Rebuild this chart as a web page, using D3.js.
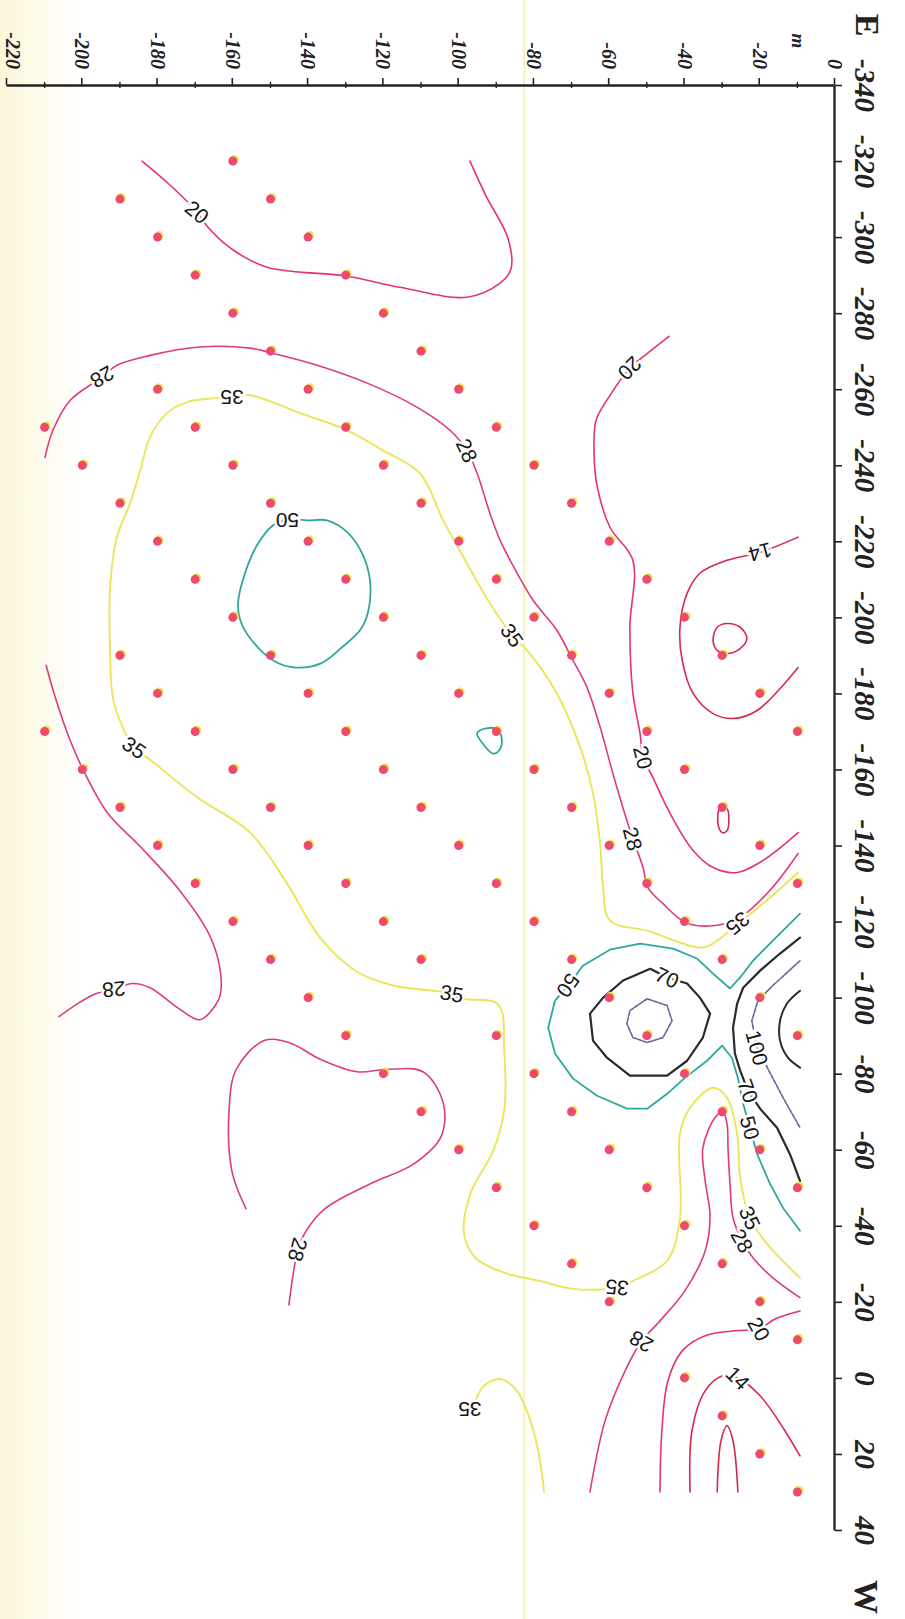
<!DOCTYPE html>
<html><head><meta charset="utf-8">
<script src="https://cdn.jsdelivr.net/npm/d3@7"></script>
<style>html,body{margin:0;padding:0;background:#fff;}svg{display:block}</style>
</head><body>
<svg id="chart" width="905" height="1619"></svg>
<script>
// ---------- DATA ----------
const xTickValues = [-340,-320,-300,-280,-260,-240,-220,-200,-180,-160,-140,-120,-100,-80,-60,-40,-20,0,20,40];
const depthTickValues = [0,-20,-40,-60,-80,-100,-120,-140,-160,-180,-200,-220];
const depthMinorTicks = [-10,-30,-50,-70,-90,-110,-130,-150,-170,-190,-210];
const depthUnit = "m";
const leftEnd = "E", rightEnd = "W";

// sample stations (x, m) and the depths (m) sampled at each
const stationX = [-320,-310,-300,-290,-280,-270,-260,-250,-240,-230,-220,-210,-200,-190,-180,-170,-160,-150,-140,-130,-120,-110,-100,-90,-80,-70,-60,-50,-40,-30,-20,-10,0,10,20,30];
const stationDepths = [
 [-160],[-150,-190],[-140,-180],[-130,-170],[-120,-160],[-110,-150],
 [-100,-140,-180],[-90,-130,-170,-210],[-80,-120,-160,-200],[-70,-110,-150,-190],
 [-60,-100,-140,-180],[-50,-90,-130,-170],[-40,-80,-120,-160],[-30,-70,-110,-150,-190],
 [-20,-60,-100,-140,-180],[-10,-50,-90,-130,-170,-210],[-40,-80,-120,-160,-200],
 [-30,-70,-110,-150,-190],[-20,-60,-100,-140,-180],[-10,-50,-90,-130,-170],
 [-40,-80,-120,-160],[-30,-70,-110,-150],[-20,-60,-100,-140],[-10,-50,-90,-130],
 [-40,-80,-120],[-30,-70,-110],[-20,-60,-100],[-10,-50,-90],
 [-40,-80],[-30,-70],[-20,-60],[-10,-50],[-40],[-30],[-20],[-10]
];

// contour lines: [x, depth]
const c20a = [[-320,-184.1],[-313.7,-176.7],[-306.6,-169.5],[-302.6,-166.6],[-296.6,-159.9],[-292.1,-150.9],[-289.7,-129.6],[-286.8,-115.6],[-284.2,-97.8],[-287.9,-89.0],[-291.6,-86.1],[-299.7,-86.9],[-310.8,-92.7],[-320,-97.0]];
const c28a = [[-242.1,-209.9],[-249.2,-207.8],[-257.1,-203.2],[-263.2,-194.7],[-266.3,-190.8],[-268.9,-182.0],[-271.1,-168.7],[-270.8,-155.4],[-269.5,-149.6],[-266.3,-137.6],[-261.6,-124.3],[-255.3,-111.1],[-249.2,-102.3],[-243.9,-97.8],[-237.9,-95.1],[-227.4,-91.7],[-220.3,-89.0],[-215.0,-86.3],[-204.5,-80.2],[-196.6,-73.9],[-189.2,-69.9],[-181.6,-65.9],[-171.1,-62.4],[-158.9,-59.0],[-146.6,-55.3],[-141.8,-53.7],[-134.2,-51.0],[-128.9,-49.7],[-124.7,-45.7],[-119.7,-39.6],[-118.9,-32.4],[-121.1,-25.2],[-128.2,-17.3],[-137.9,-9.8]];
const c35a = [[-132.9,-9.8],[-123.4,-20.7],[-119.5,-25.8],[-115.5,-30.6],[-113.2,-35.1],[-117.6,-49.9],[-120.3,-59.8],[-128.9,-61.6],[-140.5,-62.4],[-153.7,-64.3],[-165.8,-67.7],[-180.0,-73.9],[-191.3,-81.8],[-195.3,-85.8],[-203.7,-91.7],[-214.2,-97.8],[-225.5,-104.1],[-237.9,-110.3],[-243.9,-120.1],[-249.2,-129.6],[-253.7,-142.1],[-258.4,-155.4],[-257.9,-160.2],[-257.6,-165.3],[-256.6,-172.2],[-253.7,-177.5],[-247.4,-182.0],[-238.7,-184.6],[-230.0,-187.3],[-221.1,-190.8],[-207.9,-192.6],[-191.3,-192.6],[-177.6,-191.6],[-165.8,-186.2],[-162.6,-182.0],[-152.9,-169.8],[-143.4,-155.4],[-130.5,-145.9],[-115.5,-136.6],[-106.8,-127.0],[-103.2,-117.4],[-101.1,-101.8],[-99.7,-98.6],[-98.2,-89.5],[-86.3,-87.9],[-70.3,-87.9],[-59.5,-90.9],[-48.9,-96.7],[-38.2,-98.6],[-31.6,-95.6],[-27.6,-87.7],[-25.5,-78.4],[-23.4,-69.6],[-23.7,-57.9],[-25.5,-53.7],[-30.8,-44.6],[-42.1,-41.2],[-64.2,-41.2],[-71.1,-38.5],[-76.3,-32.4],[-73.7,-28.7],[-64.2,-26.0],[-52.6,-25.2],[-42.1,-22.6],[-35.3,-18.1],[-26.3,-9.3]];
const c28b = [[-187.4,-209.6],[-180.0,-207.5],[-167.1,-203.0],[-158.4,-199.0],[-148.7,-193.4],[-138.9,-183.8],[-128.4,-174.3],[-117.6,-166.8],[-110.0,-163.9],[-102.6,-163.1],[-99.2,-163.9],[-94.2,-168.7],[-97.1,-174.3],[-102.6,-182.0],[-103.7,-186.8],[-102.1,-191.6],[-101.1,-196.3],[-98.7,-200.8],[-95.0,-206.2]];
const c28c = [[-44.5,-156.5],[-54.2,-160.2],[-70.3,-161.0],[-81.1,-159.1],[-88.7,-151.7],[-88.2,-145.1],[-83.7,-136.6],[-80.5,-127.0],[-81.1,-119.3],[-80.5,-109.5],[-72.4,-104.1],[-63.4,-104.7],[-56.3,-111.9],[-51.1,-123.3],[-44.5,-135.5],[-38.2,-140.8],[-33.7,-142.7],[-19.2,-145.1]];
const c50a = [[-225.5,-140.3],[-225.5,-135.0],[-222.4,-129.6],[-216.3,-125.4],[-209.2,-123.5],[-201.3,-124.1],[-196.6,-126.2],[-192.4,-130.7],[-187.9,-136.6],[-186.8,-143.2],[-188.4,-148.8],[-194.5,-155.4],[-199.5,-158.1],[-203.9,-158.6],[-211.8,-156.7],[-218.9,-153.6],[-224.2,-149.3],[-225.8,-144.8]];
const c50s = [[-169.5,-95.1],[-170.8,-92.7],[-170.5,-89.5],[-167.1,-88.5],[-164.7,-89.5],[-164.2,-90.9],[-167.1,-93.8]];
const c14a = [[-221.1,-9.8],[-217.1,-19.9],[-215.0,-28.7],[-211.6,-35.9],[-206.3,-39.3],[-197.4,-41.2],[-188.7,-40.6],[-180.0,-37.7],[-174.7,-32.4],[-173.4,-27.1],[-175.5,-20.7],[-186.8,-9.8]];
const c14b = [[-197.4,-31.3],[-198.4,-28.7],[-197.4,-25.2],[-194.5,-23.4],[-191.8,-25.2],[-190.5,-28.7],[-191.3,-31.3],[-193.9,-32.4]];
const c14c = [[-149.7,-30.6],[-149.7,-28.7],[-146.6,-28.2],[-143.9,-28.7],[-143.4,-30.0],[-145.8,-31.1]];
const c20b = [[-273.9,-44.1],[-268.9,-50.5],[-265.5,-54.5],[-257.6,-60.3],[-251.8,-63.5],[-242.6,-64.0],[-234.5,-63.2],[-223.7,-59.8],[-215.0,-53.7],[-197.4,-54.5],[-180.0,-53.7],[-169.5,-51.8],[-163.2,-51.0],[-157.9,-48.4],[-148.4,-43.8],[-138.7,-37.7],[-134.2,-32.4],[-132.9,-26.0],[-136.1,-19.1],[-143.4,-9.8]];
const c50b = [[-122.1,-9.3],[-115.0,-16.5],[-109.7,-21.8],[-105.3,-25.2],[-102.4,-27.9],[-106.3,-32.4],[-110.3,-36.7],[-112.9,-43.0],[-114.2,-51.8],[-112.6,-59.8],[-108.4,-67.0],[-103.2,-70.9],[-99.2,-74.4],[-92.1,-76.2],[-85.3,-74.4],[-78.7,-69.6],[-74.2,-63.2],[-70.8,-55.3],[-70.8,-49.9],[-74.7,-44.6],[-78.9,-39.9],[-83.4,-34.0],[-87.4,-30.0],[-84.2,-27.4],[-78.9,-25.8],[-72.1,-24.4],[-65.8,-22.6],[-58.9,-20.7],[-51.1,-17.3],[-44.7,-13.8],[-38.7,-9.3]];
const c70a = [[-107.6,-49.1],[-104.5,-56.3],[-100.0,-61.6],[-95.8,-65.1],[-88.7,-64.3],[-84.2,-60.6],[-79.5,-54.5],[-79.5,-44.6],[-83.4,-39.3],[-89.5,-35.1],[-95.8,-33.2],[-100.0,-35.9],[-103.7,-39.3],[-105.3,-44.6]];
const c100a = [[-99.7,-49.9],[-96.6,-54.5],[-93.2,-55.3],[-89.5,-53.7],[-88.2,-49.9],[-89.5,-45.7],[-93.9,-43.3],[-97.9,-44.6]];
const c70b = [[-115.8,-9.3],[-111.6,-14.6],[-107.1,-19.9],[-102.6,-24.4],[-98.4,-26.0],[-92.1,-27.1],[-85.3,-26.6],[-80.8,-25.2],[-75.5,-23.1],[-70.8,-19.9],[-65.8,-15.4],[-58.9,-12.0],[-51.8,-9.3]];
const c100b = [[-109.7,-9.3],[-103.2,-16.5],[-99.2,-20.5],[-93.9,-22.1],[-86.8,-20.7],[-80.3,-17.3],[-73.7,-13.8],[-65.8,-9.3]];
const c150 = [[-101.8,-9.3],[-98.4,-12.8],[-93.9,-14.6],[-88.7,-14.6],[-84.2,-12.5],[-81.6,-9.3]];
const c28d = [[-21.1,-9.3],[-26.3,-16.5],[-31.6,-21.8],[-36.1,-24.7],[-42.1,-27.1],[-51.1,-27.9],[-59.7,-28.4],[-66.8,-28.7],[-70.0,-29.8],[-68.4,-31.9],[-60.5,-35.1],[-51.8,-34.5],[-42.6,-33.2],[-33.4,-34.5],[-22.9,-39.9],[-15.0,-46.5],[-9.5,-51.5],[-1.8,-55.8],[11.3,-61.1],[30,-65.1]];
const c20c = [[-17.6,-9.3],[-15.5,-15.9],[-12.9,-20.2],[-12.4,-26.6],[-11.1,-34.5],[-7.1,-40.6],[0.8,-44.4],[13.9,-46.0],[30,-46.5]];
const c14d = [[30,-38.5],[13.9,-38.0],[3.4,-34.5],[-0.5,-30.0],[0,-25.8],[4.7,-19.9],[13.9,-13.3],[20.5,-9.3]];
const c14e = [[30,-31.3],[16.6,-30.3],[12.6,-28.7],[16.6,-27.1],[30,-25.8]];
const c35c = [[9.2,-100.2],[8.2,-97.0],[2.1,-93.3],[0.3,-89.0],[3.4,-84.5],[12.6,-80.5],[21.8,-78.4],[30,-77.3]];

// contour labels: [text, x, depth]
const labelText = ["20","28","28","28","35","35","35","35","35","35","35","50","50","50","70","70","100","14","20","20","28","28","28","28","20","14","35"];
const labelX = [-306.6,-263.2,-243.9,-141.8,-119.5,-195.3,-257.9,-165.8,-101.1,-23.7,-42.1,-225.5,-103.2,-65.8,-105.3,-75.5,-86.8,-217.1,-265.5,-163.2,-102.1,-33.7,-36.1,-9.5,-12.9,0,8.2];
const labelDepth = [-169.5,-194.7,-97.8,-53.7,-25.8,-85.8,-160.2,-186.2,-101.8,-57.9,-22.6,-145.5,-70.9,-22.6,-44.6,-23.1,-20.7,-19.9,-54.5,-51.0,-191.6,-142.7,-24.7,-51.5,-20.2,-25.8,-97.0];
const labelAngle = [-50,60,-25,-15,50,-35,90,-55,-80,95,-25,90,35,-15,-65,-20,-15,75,45,-15,85,15,-30,120,-30,-45,90];

const foldLineDepth = -82.6; // faint yellow fold line of the scan

// ---------- DRAW ----------
const svg = d3.select("#chart");
const defs = svg.append("defs");
const grad = defs.append("linearGradient").attr("id","paper").attr("x1",0).attr("x2",1).attr("y1",0).attr("y2",0);
grad.append("stop").attr("offset",0).attr("stop-color","#fbf6d8");
grad.append("stop").attr("offset",1).attr("stop-color","#ffffff");
svg.append("rect").attr("width",905).attr("height",1619).attr("fill","#fff");
svg.append("rect").attr("width",80).attr("height",1619).attr("fill","url(#paper)");

// chart drawn in its own orientation, then turned a quarter turn
const g = svg.append("g").attr("transform","translate(905,0) rotate(90)");
const xS = d3.scaleLinear().domain([-340,40]).range([85,1530]);
const dS = d3.scaleLinear().domain([0,-220]).range([70,898]);

g.append("line").attr("x1",-20).attr("x2",1640)
  .attr("y1",dS(foldLineDepth)).attr("y2",dS(foldLineDepth))
  .attr("stroke","#f4efb2").attr("stroke-width",1.6);

const colors = {14:"#d6284c",20:"#e5346a",28:"#e03a7e",35:"#ece45a",50:"#2fa79c",70:"#2a2a2a",100:"#62649a",150:"#2a2a2a"};
const widths = {14:1.6,20:1.6,28:1.6,35:1.9,50:1.8,70:2.2,100:1.6,150:2};
const contours = [
 {level:20,pts:c20a},{level:28,pts:c28a},{level:35,pts:c35a},{level:28,pts:c28b},{level:28,pts:c28c},
 {level:50,pts:c50a,closed:true},{level:50,pts:c50s,closed:true},{level:14,pts:c14a},
 {level:14,pts:c14b,closed:true},{level:14,pts:c14c,closed:true},{level:20,pts:c20b},
 {level:50,pts:c50b,poly:true},{level:70,pts:c70a,closed:true,poly:true},{level:100,pts:c100a,closed:true,poly:true},
 {level:70,pts:c70b,poly:true},{level:100,pts:c100b,poly:true},{level:150,pts:c150},
 {level:28,pts:c28d},{level:20,pts:c20c},{level:14,pts:c14d},{level:14,pts:c14e},{level:35,pts:c35c}
];
contours.forEach(c => {
  const curve = c.closed ? (c.poly ? d3.curveLinearClosed : d3.curveCatmullRomClosed.alpha(0.5))
                         : (c.poly ? d3.curveLinear : d3.curveCatmullRom.alpha(0.5));
  const line = d3.line().x(p => xS(p[0])).y(p => dS(p[1])).curve(curve);
  g.append("path").attr("d", line(c.pts)).attr("fill","none")
    .attr("stroke", colors[c.level]).attr("stroke-width", widths[c.level])
    .attr("stroke-linejoin","round").attr("stroke-linecap","round")
    .attr("stroke-dasharray", c.level===100 ? "4,1.5" : null);
});

// sample points
const dots = [];
stationX.forEach((x,i) => stationDepths[i].forEach(d => dots.push([x,d])));
g.append("g").selectAll("circle").data(dots).join("circle")
  .attr("cx", p => xS(p[0]) - 1.5).attr("cy", p => dS(p[1]) - 1.5).attr("r",4.5).attr("fill","#f3e25a");
g.append("g").selectAll("circle").data(dots).join("circle")
  .attr("cx", p => xS(p[0])).attr("cy", p => dS(p[1])).attr("r",4.5).attr("fill","#ee4a6c");

// contour labels
labelText.forEach((t,i) => {
  g.append("text").text(t)
    .attr("transform", `translate(${xS(labelX[i])},${dS(labelDepth[i])}) rotate(${labelAngle[i]})`)
    .attr("text-anchor","middle").attr("dy","0.36em")
    .attr("font-family","Liberation Sans, Arial, sans-serif").attr("font-size",21)
    .attr("fill","#161616").attr("stroke","#fff").attr("stroke-width",5)
    .attr("paint-order","stroke");
});

// axes
const serif = "Liberation Serif, Times New Roman, serif";
const ax = g.append("g").attr("transform",`translate(0,${dS(0)})`)
  .call(d3.axisTop(xS).tickValues(xTickValues).tickSize(7).tickSizeOuter(0).tickPadding(13).tickFormat(d => String(d)));
ax.selectAll("text").attr("font-family",serif).attr("font-weight","bold").attr("font-style","italic").attr("font-size",29).attr("fill","#222");
const ay = g.append("g").attr("transform",`translate(${xS(-340)},0)`)
  .call(d3.axisLeft(dS).tickValues(depthTickValues).tickSize(7).tickSizeOuter(0).tickPadding(9).tickFormat(d => String(d)));
ay.selectAll("text").attr("font-family",serif).attr("font-weight","bold").attr("font-style","italic").attr("font-size",20).attr("fill","#222")
  .attr("dy", d => d === -220 ? "0.02em" : "0.32em");
[ax, ay].forEach(a => {
  a.select(".domain").attr("stroke","#222").attr("stroke-width",2.3);
  a.selectAll(".tick line").attr("stroke","#222").attr("stroke-width",1.6);
});
ay.selectAll(".minor").data(depthMinorTicks).join("line").attr("class","minor")
  .attr("x1",-3).attr("x2",3).attr("y1",d => dS(d)).attr("y2",d => dS(d))
  .attr("stroke","#222").attr("stroke-width",1.4);

g.append("text").text(depthUnit).attr("x",41).attr("y",dS(-10)).attr("dy","0.3em")
  .attr("text-anchor","middle").attr("font-family",serif).attr("font-style","italic").attr("font-weight","bold")
  .attr("font-size",19).attr("fill","#222");
g.append("text").text(leftEnd).attr("x",25).attr("y",37).attr("dy","0.35em").attr("text-anchor","middle")
  .attr("font-family",serif).attr("font-weight","bold").attr("font-size",34).attr("fill","#222");
g.append("text").text(rightEnd).attr("x",1597).attr("y",38).attr("dy","0.35em").attr("text-anchor","middle")
  .attr("font-family",serif).attr("font-weight","bold").attr("font-size",34).attr("fill","#222");
</script>
</body></html>
